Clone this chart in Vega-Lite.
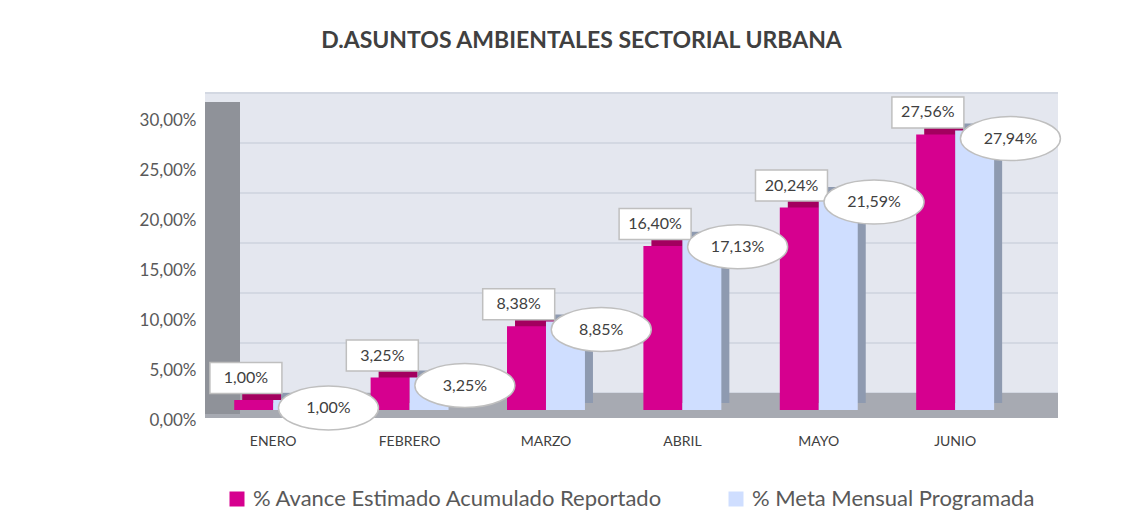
{
  "$schema": "https://vega.github.io/schema/vega-lite/v6.json",
  "width": 853,
  "height": 318,
  "autosize": {"type": "none"},
  "padding": {"left": 205, "top": 92, "right": 85, "bottom": 107},
  "background": "white",
  "config": {
    "locale": {"number": {"decimal": ",", "thousands": ".", "grouping": [3], "currency": ["", " €"]}},
    "view": {"fill": "#e4e7ef", "stroke": null},
    "font": "Lato"
  },
  "title": {"text": "D.ASUNTOS AMBIENTALES SECTORIAL URBANA", "fontSize": 23, "fontWeight": "bold", "color": "#404040", "font": "Lato", "anchor": "middle", "dx": -50, "offset": 32},
  "resolve": {"scale": {"xOffset": "independent"}},
  "datasets": {
    "main": [
      {"mes": "ENERO", "serie": "% Avance Estimado Acumulado Reportado", "valor": 0.0100},
      {"mes": "FEBRERO", "serie": "% Avance Estimado Acumulado Reportado", "valor": 0.0325},
      {"mes": "MARZO", "serie": "% Avance Estimado Acumulado Reportado", "valor": 0.0838},
      {"mes": "ABRIL", "serie": "% Avance Estimado Acumulado Reportado", "valor": 0.1640},
      {"mes": "MAYO", "serie": "% Avance Estimado Acumulado Reportado", "valor": 0.2024},
      {"mes": "JUNIO", "serie": "% Avance Estimado Acumulado Reportado", "valor": 0.2756},
      {"mes": "ENERO", "serie": "% Meta Mensual Programada", "valor": 0.0100},
      {"mes": "FEBRERO", "serie": "% Meta Mensual Programada", "valor": 0.0325},
      {"mes": "MARZO", "serie": "% Meta Mensual Programada", "valor": 0.0885},
      {"mes": "ABRIL", "serie": "% Meta Mensual Programada", "valor": 0.1713},
      {"mes": "MAYO", "serie": "% Meta Mensual Programada", "valor": 0.2159},
      {"mes": "JUNIO", "serie": "% Meta Mensual Programada", "valor": 0.2794}
    ],
    "grid": [
      {"valor": 0}, {"valor": 0.05}, {"valor": 0.10}, {"valor": 0.15}, {"valor": 0.20}, {"valor": 0.25}, {"valor": 0.30}
    ],
    "floor": [{"valor": 0}]
  },
  "layer": [
    {
      "data": {"name": "grid"},
      "mark": {"type": "rule", "color": "#d3d8e2", "strokeWidth": 2, "yOffset": -17},
      "encoding": {
        "y": {
          "field": "valor", "type": "quantitative",
          "scale": {"domain": [0, 0.318], "nice": false, "zero": true},
          "axis": {
            "values": [0, 0.05, 0.10, 0.15, 0.20, 0.25, 0.30],
            "format": ".2%", "grid": false, "domain": false, "ticks": false,
            "labelPadding": 9, "labelOffset": 10, "labelFontSize": 17, "labelColor": "#595959",
            "labelFont": "Lato", "title": null
          }
        }
      }
    },
    {
      "data": {"name": "floor"},
      "mark": {"type": "rule", "color": "#a7aab2", "strokeWidth": 25, "yOffset": -4.5},
      "encoding": {"y": {"field": "valor", "type": "quantitative", "title": null}}
    },
    {
      "data": {"name": "floor"},
      "mark": {"type": "rule", "color": "#8f9299", "strokeWidth": 35, "xOffset": 17.5, "yOffset": -8, "y2Offset": 4},
      "encoding": {
        "x": {"datum": "ENERO", "type": "nominal", "bandPosition": 0, "sort": ["ENERO", "FEBRERO", "MARZO", "ABRIL", "MAYO", "JUNIO"], "scale": {"domain": ["ENERO", "FEBRERO", "MARZO", "ABRIL", "MAYO", "JUNIO"], "paddingInner": 0, "paddingOuter": 0.127, "align": 0},
          "axis": {"title": null, "labelAngle": 0, "ticks": false, "domain": false, "labelPadding": 24, "labelFontSize": 14, "labelColor": "#404040", "labelFont": "Lato"}},
        "y": {"datum": 0.30, "type": "quantitative"},
        "y2": {"datum": 0.0}
      }
    },
    {
      "data": {"name": "main"},
      "transform": [{"filter": "datum.serie == '% Avance Estimado Acumulado Reportado'"}],
      "mark": {"type": "bar", "color": "#a3005f", "yOffset": -7, "y2Offset": -7},
      "encoding": {
        "x": {"field": "mes", "type": "nominal", "sort": ["ENERO", "FEBRERO", "MARZO", "ABRIL", "MAYO", "JUNIO"], "title": null},
        "xOffset": {"field": "serie", "type": "nominal", "scale": {"domain": ["% Avance Estimado Acumulado Reportado", "% Meta Mensual Programada"], "paddingInner": 0, "paddingOuter": 0.75, "align": 0.637}},
        "y": {"field": "valor", "type": "quantitative", "title": null}
      }
    },
    {
      "data": {"name": "main"},
      "transform": [{"filter": "datum.serie == '% Meta Mensual Programada'"}],
      "mark": {"type": "bar", "color": "#8e9ab0", "yOffset": -7, "y2Offset": -7},
      "encoding": {
        "x": {"field": "mes", "type": "nominal", "sort": ["ENERO", "FEBRERO", "MARZO", "ABRIL", "MAYO", "JUNIO"], "title": null},
        "xOffset": {"field": "serie", "type": "nominal", "scale": {"domain": ["% Avance Estimado Acumulado Reportado", "% Meta Mensual Programada"], "paddingInner": 0, "paddingOuter": 0.75, "align": 0.637}},
        "y": {"field": "valor", "type": "quantitative", "title": null}
      }
    },
    {
      "data": {"name": "main"},
      "mark": {"type": "bar"},
      "encoding": {
        "x": {"field": "mes", "type": "nominal", "sort": ["ENERO", "FEBRERO", "MARZO", "ABRIL", "MAYO", "JUNIO"], "title": null},
        "xOffset": {"field": "serie", "type": "nominal", "scale": {"domain": ["% Avance Estimado Acumulado Reportado", "% Meta Mensual Programada"], "paddingInner": 0, "paddingOuter": 0.75, "align": 0.5}},
        "y": {"field": "valor", "type": "quantitative", "title": null},
        "color": {
          "field": "serie", "type": "nominal",
          "scale": {"domain": ["% Avance Estimado Acumulado Reportado", "% Meta Mensual Programada"], "range": ["#d6008f", "#cfdeff"]},
          "legend": {
            "orient": "none", "legendX": 21, "legendY": 396, "direction": "horizontal", "title": null,
            "symbolType": "square", "symbolSize": 225, "symbolStrokeWidth": 0,
            "labelFontSize": 22, "labelColor": "#595959", "labelFont": "Lato", "columnPadding": 62, "labelOffset": 5, "labelLimit": 600
          }
        }
      }
    },
    {
      "data": {"name": "main"},
      "transform": [{"filter": "datum.serie == '% Avance Estimado Acumulado Reportado'"}],
      "mark": {"type": "point", "shape": "M -1 -0.43 H 1 V 0.43 H -1 Z", "size": 5184, "filled": true, "fill": "white", "stroke": "#bfbfbf", "strokeWidth": 1.5, "opacity": 1, "fillOpacity": 1, "yOffset": -22},
      "encoding": {
        "x": {"field": "mes", "type": "nominal", "sort": ["ENERO", "FEBRERO", "MARZO", "ABRIL", "MAYO", "JUNIO"], "title": null},
        "xOffset": {"field": "serie", "type": "nominal", "scale": {"domain": ["% Avance Estimado Acumulado Reportado", "% Meta Mensual Programada"], "paddingInner": 0, "paddingOuter": 0.75, "align": 0.5}},
        "y": {"field": "valor", "type": "quantitative", "title": null}
      }
    },
    {
      "data": {"name": "main"},
      "transform": [{"filter": "datum.serie == '% Avance Estimado Acumulado Reportado'"}],
      "mark": {"type": "text", "fontSize": 16, "color": "#404040", "font": "Lato", "yOffset": -22, "baseline": "middle", "align": "center"},
      "encoding": {
        "x": {"field": "mes", "type": "nominal", "sort": ["ENERO", "FEBRERO", "MARZO", "ABRIL", "MAYO", "JUNIO"], "title": null},
        "xOffset": {"field": "serie", "type": "nominal", "scale": {"domain": ["% Avance Estimado Acumulado Reportado", "% Meta Mensual Programada"], "paddingInner": 0, "paddingOuter": 0.75, "align": 0.5}},
        "y": {"field": "valor", "type": "quantitative", "title": null},
        "text": {"field": "valor", "type": "quantitative", "format": ".2%"}
      }
    },
    {
      "data": {"name": "main"},
      "transform": [{"filter": "datum.serie == '% Meta Mensual Programada'"}],
      "mark": {"type": "point", "shape": "M -1 0 A 1 0.44 0 1 0 1 0 A 1 0.44 0 1 0 -1 0 Z", "size": 10000, "filled": true, "fill": "white", "stroke": "#bfbfbf", "strokeWidth": 1.5, "opacity": 1, "fillOpacity": 1, "yOffset": 8},
      "encoding": {
        "x": {"field": "mes", "type": "nominal", "sort": ["ENERO", "FEBRERO", "MARZO", "ABRIL", "MAYO", "JUNIO"], "title": null},
        "xOffset": {"field": "serie", "type": "nominal", "scale": {"domain": ["% Avance Estimado Acumulado Reportado", "% Meta Mensual Programada"], "paddingInner": 0, "paddingOuter": 0.75, "align": 0.842}},
        "y": {"field": "valor", "type": "quantitative", "title": null}
      }
    },
    {
      "data": {"name": "main"},
      "transform": [{"filter": "datum.serie == '% Meta Mensual Programada'"}],
      "mark": {"type": "text", "fontSize": 16, "color": "#404040", "font": "Lato", "yOffset": 8, "baseline": "middle", "align": "center"},
      "encoding": {
        "x": {"field": "mes", "type": "nominal", "sort": ["ENERO", "FEBRERO", "MARZO", "ABRIL", "MAYO", "JUNIO"], "title": null},
        "xOffset": {"field": "serie", "type": "nominal", "scale": {"domain": ["% Avance Estimado Acumulado Reportado", "% Meta Mensual Programada"], "paddingInner": 0, "paddingOuter": 0.75, "align": 0.842}},
        "y": {"field": "valor", "type": "quantitative", "title": null},
        "text": {"field": "valor", "type": "quantitative", "format": ".2%"}
      }
    }
  ]
}
